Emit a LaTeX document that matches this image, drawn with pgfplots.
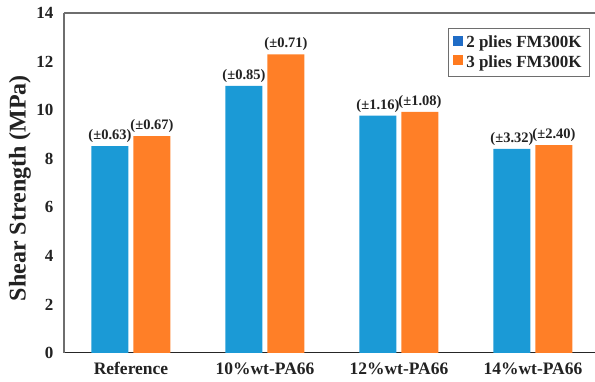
\documentclass[border=0pt]{standalone}
\usepackage{fontspec}
\setmainfont{Liberation Serif}
\usepackage{pgfplots}
\pgfplotsset{compat=1.18}

\definecolor{barblue}{HTML}{1B9AD6}
\definecolor{barorange}{HTML}{FF7F27}
\definecolor{keyblue}{HTML}{1F6CC6}
\definecolor{keyorange}{HTML}{FF7A1E}
\definecolor{framegray}{HTML}{6E6E6E}
\definecolor{textdark}{HTML}{222222}

\begin{document}
\begin{tikzpicture}
\begin{axis}[
  name=ax,
  scale only axis,
  width=531pt, height=340pt,
  xmin=-0.5, xmax=3.463,
  ymin=0, ymax=14,
  ytick={0,2,...,14},
  xtick={0,1,2,3},
  xticklabels={Reference,10\%wt-PA66,12\%wt-PA66,14\%wt-PA66},
  /pgf/number format/assume math mode=true,
  axis x line*=bottom, axis y line*=left,
  x axis line style={black!85, line width=1pt},
  y axis line style={framegray, line width=1.5pt},
  major tick length=0pt,
  ybar=5pt, bar width=37pt,
  yticklabel style={font=\fontsize{17}{17}\selectfont\bfseries, text=textdark, xshift=-7pt},
  xticklabel style={font=\fontsize{17.5}{17.5}\selectfont\bfseries, text=textdark, yshift=-6pt},
  ylabel={Shear Strength (MPa)},
  every axis y label/.style={at={(rel axis cs:-0.0829,0.485)}, rotate=90, anchor=center,
    font=\fontsize{24}{24}\selectfont\bfseries, text=textdark},
  nodes near coords,
  point meta=explicit symbolic,
  nodes near coords style={font=\fontsize{14.5}{14.5}\selectfont\bfseries, text=textdark,
    anchor=south, inner sep=1pt, yshift=2pt},
  legend style={at={(0.9906,0.956)}, anchor=north east, draw=framegray, line width=1pt,
    font=\fontsize{17}{17}\selectfont\bfseries, text=textdark,
    inner xsep=5pt, inner ysep=6pt, row sep=3pt,
    nodes={inner xsep=3pt, inner ysep=1.5pt}},
  legend cell align=left,
]
\addplot[fill=barblue, draw=none,
  legend image code/.code={\fill[keyblue] (0pt,-3.5pt) rectangle (10pt,6.5pt);}]
  coordinates {(0,8.52) [(±0.63)] (1,11.00) [(±0.85)] (2,9.77) [(±1.16)] (3,8.41) [(±3.32)]};
\addplot[fill=barorange, draw=none,
  legend image code/.code={\fill[keyorange] (0pt,-3.5pt) rectangle (10pt,6.5pt);}]
  coordinates {(0,8.93) [(±0.67)] (1,12.30) [(±0.71)] (2,9.93) [(±1.08)] (3,8.56) [(±2.40)]};
\legend{2 plies FM300K, 3 plies FM300K}
\draw[framegray, line width=1.5pt] (rel axis cs:0,1) -- (rel axis cs:1,1);
\end{axis}
\pgfresetboundingbox
\path ([shift={(-64pt,-29pt)}]ax.south west) rectangle ([shift={(0pt,13pt)}]ax.north east);
\end{tikzpicture}
\end{document}
